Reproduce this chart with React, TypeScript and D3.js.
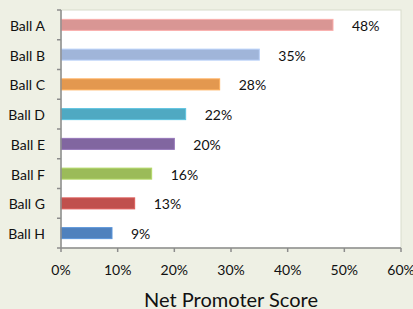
// @ts-nocheck
import { useEffect, useRef } from "react";
import * as d3 from "d3";

const balls = ["Ball A", "Ball B", "Ball C", "Ball D", "Ball E", "Ball F", "Ball G", "Ball H"];
const scores = [48, 35, 28, 22, 20, 16, 13, 9];
const colors = ["#d99694", "#a0b5d9", "#e3984f", "#4fa9c2", "#8166a0", "#9bbb59", "#c0504d", "#4f81bd"];
const xTicks = [0, 10, 20, 30, 40, 50, 60];

const App = () => {
  const ref = useRef<SVGSVGElement>(null);

  useEffect(() => {
    if (!ref.current) return;
    const width = 413;
    const height = 309;
    const margin = { top: 10, right: 12, bottom: 61, left: 61 };
    const font = "Lato, 'Open Sans', sans-serif";

    const svg = d3.select(ref.current);
    svg.selectAll("*").remove();

    svg.append("rect").attr("width", width).attr("height", height).attr("fill", "#eef0e4");

    const x = d3.scaleLinear().domain([0, 60]).range([margin.left, width - margin.right]);
    const y = d3
      .scaleBand()
      .domain(balls)
      .range([margin.top, height - margin.bottom])
      .paddingInner(0.63)
      .paddingOuter(0.315);

    // plot area
    svg
      .append("rect")
      .attr("x", margin.left)
      .attr("y", margin.top)
      .attr("width", x(60) - margin.left)
      .attr("height", height - margin.bottom - margin.top)
      .attr("fill", "#ffffff")
      .attr("stroke", "#d8dccb")
      .attr("stroke-width", 1);

    // bars
    svg
      .append("g")
      .selectAll("rect")
      .data(balls)
      .join("rect")
      .attr("x", x(0))
      .attr("y", (d) => y(d))
      .attr("width", (d, i) => x(scores[i]) - x(0))
      .attr("height", y.bandwidth())
      .attr("fill", (d, i) => colors[i])
      .attr("stroke", (d, i) => d3.color(colors[i]).brighter(0.4))
      .attr("stroke-width", 1);

    // value labels
    svg
      .append("g")
      .selectAll("text")
      .data(balls)
      .join("text")
      .attr("x", (d, i) => x(scores[i]) + 19)
      .attr("y", (d) => y(d) + y.bandwidth() / 2 + 1)
      .attr("dy", "0.35em")
      .attr("font-family", font)
      .attr("font-size", 14)
      .attr("fill", "#111")
      .text((d, i) => scores[i] + "%");

    const axisColor = "#8c8c8c";
    const step = y.step();
    const yTop = margin.top;
    const yBottom = height - margin.bottom;

    // y axis
    const yAxis = svg.append("g");
    yAxis
      .append("line")
      .attr("x1", margin.left)
      .attr("x2", margin.left)
      .attr("y1", yTop)
      .attr("y2", yBottom)
      .attr("stroke", axisColor)
      .attr("stroke-width", 1.5);
    yAxis
      .selectAll("line.tick")
      .data(d3.range(balls.length + 1))
      .join("line")
      .attr("class", "tick")
      .attr("x1", margin.left - 4)
      .attr("x2", margin.left)
      .attr("y1", (i) => yTop + i * step)
      .attr("y2", (i) => yTop + i * step)
      .attr("stroke", axisColor)
      .attr("stroke-width", 1.5);
    yAxis
      .selectAll("text")
      .data(balls)
      .join("text")
      .attr("x", margin.left - 16)
      .attr("y", (d) => y(d) + y.bandwidth() / 2 + 1)
      .attr("dy", "0.35em")
      .attr("text-anchor", "end")
      .attr("font-family", font)
      .attr("font-size", 14)
      .attr("fill", "#111")
      .text((d) => d);

    // x axis
    const xAxis = svg.append("g");
    xAxis
      .append("line")
      .attr("x1", x(0))
      .attr("x2", x(60))
      .attr("y1", yBottom)
      .attr("y2", yBottom)
      .attr("stroke", axisColor)
      .attr("stroke-width", 1.5);
    xAxis
      .selectAll("line.tick")
      .data(xTicks)
      .join("line")
      .attr("class", "tick")
      .attr("x1", (d) => x(d))
      .attr("x2", (d) => x(d))
      .attr("y1", yBottom)
      .attr("y2", yBottom + 4)
      .attr("stroke", axisColor)
      .attr("stroke-width", 1.5);
    xAxis
      .selectAll("text")
      .data(xTicks)
      .join("text")
      .attr("x", (d) => x(d))
      .attr("y", yBottom + 22)
      .attr("dy", "0.35em")
      .attr("text-anchor", "middle")
      .attr("font-family", font)
      .attr("font-size", 14)
      .attr("fill", "#111")
      .text((d) => d + "%");

    svg
      .append("text")
      .attr("x", (x(0) + x(60)) / 2)
      .attr("y", 300)
      .attr("dy", "0.35em")
      .attr("text-anchor", "middle")
      .attr("font-family", font)
      .attr("font-size", 20)
      .attr("fill", "#111")
      .text("Net Promoter Score");
  }, []);

  return (
    <svg
      ref={ref}
      width={413}
      height={309}
      style={{ position: "fixed", left: 0, top: 0, display: "block" }}
    />
  );
};

export default App;
